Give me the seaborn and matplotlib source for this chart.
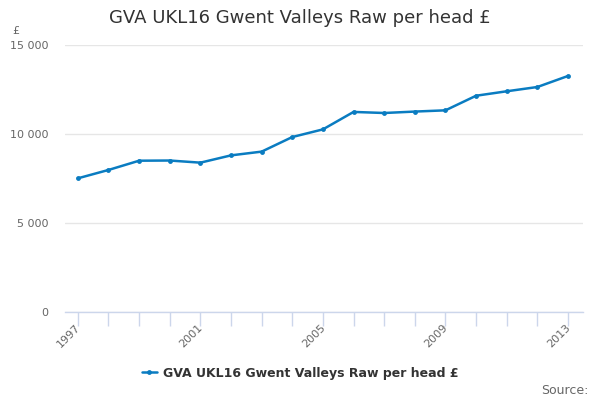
import matplotlib
matplotlib.use("Agg")
import matplotlib.pyplot as plt
import matplotlib.transforms as mtrans
import seaborn as sns
import pandas as pd

# data
years = list(range(1997, 2014))
gva = [7510, 7980, 8500, 8510, 8390, 8800, 9010, 9830, 10260,
       11240, 11180, 11260, 11330, 12150, 12400, 12640, 13260]
y_ticks = [0, 5000, 10000, 15000]
y_labels = ["0", "5 000", "10 000", "15 000"]
series_name = "GVA UKL16 Gwent Valleys Raw per head £"

df = pd.DataFrame({"year": years, "value": gva})

sns.set_style("white")
plt.rcParams["font.family"] = ["DejaVu Sans"]

fig = plt.figure(figsize=(6, 4), dpi=100)
ax = fig.add_axes([65 / 600, 1 - 312 / 400, 518 / 600, 267 / 400])

sns.lineplot(data=df, x="year", y="value", ax=ax, color="#0a7cc1", linewidth=1.8,
             marker="o", markersize=3.5, markeredgewidth=0, label=series_name)

ax.set_xlim(1996.58, 2013.49)
ax.set_ylim(0, 15000)
ax.set_yticks(y_ticks)
ax.set_yticklabels(y_labels)
ax.yaxis.grid(True, color="#e6e6e6", linewidth=1)
ax.set_axisbelow(True)

ax.set_xticks(years)
ax.set_xticklabels([str(y) if (y - 1997) % 4 == 0 else "" for y in years],
                   rotation=45, ha="right", rotation_mode="anchor")
ax.tick_params(axis="x", length=10, color="#ccd6eb", width=1, labelsize=8,
               labelcolor="#666666", pad=2, bottom=True)
ax.tick_params(axis="y", length=0, labelsize=8, labelcolor="#666666", pad=12)

# nudge rotated year labels up/left to sit at the tick ends
shift = mtrans.ScaledTranslation(-3 / 100, 6 / 100, fig.dpi_scale_trans)
for lbl in ax.get_xticklabels():
    lbl.set_transform(lbl.get_transform() + shift)

for s in ["top", "right", "left"]:
    ax.spines[s].set_visible(False)
ax.spines["bottom"].set_color("#ccd6eb")
ax.spines["bottom"].set_linewidth(1)

ax.set_xlabel("")
ax.set_ylabel("")

fig.text(0.5, 1 - 18 / 400, "GVA UKL16 Gwent Valleys Raw per head £", ha="center", va="center",
         fontsize=13, color="#333333")
fig.text(12 / 600, 1 - 31 / 400, "£", ha="left", va="center", fontsize=8, color="#666666")
fig.text(588 / 600, 1 - 390 / 400, "Source:", ha="right", va="center", fontsize=9, color="#666666")

leg = ax.legend(loc="center", bbox_to_anchor=(0.5, 1 - 373 / 400), bbox_transform=fig.transFigure,
                frameon=False, handlelength=1.2, handletextpad=0.5, fontsize=9)
for t in leg.get_texts():
    t.set_fontweight("bold")
    t.set_color("#333333")

fig.savefig("out.png", dpi=100)
